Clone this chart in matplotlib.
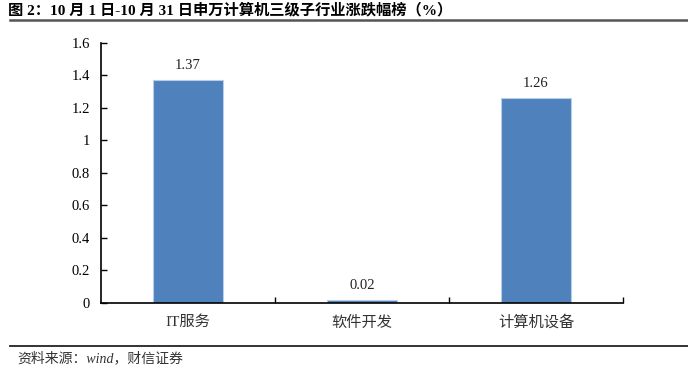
import matplotlib
matplotlib.use('Agg')
import matplotlib.pyplot as plt
from matplotlib.lines import Line2D

plt.rcParams['font.family'] = ['Liberation Serif', 'Noto Sans CJK SC']

# 数据
categories = ['IT服务', '软件开发', '计算机设备']
values = [1.37, 0.02, 1.26]
yticks = [0, 0.2, 0.4, 0.6, 0.8, 1, 1.2, 1.4, 1.6]
ytick_labels = ['0', '0.2', '0.4', '0.6', '0.8', '1', '1.2', '1.4', '1.6']

title = '图 2：10 月 1 日-10 月 31 日申万计算机三级子行业涨跌幅榜（%）'
source = '资料来源：wind，财信证券'

fig = plt.figure(figsize=(6.88, 3.77), dpi=100)
ax = fig.add_axes([0.1468, 0.1963, 0.9055 - 0.1468, 0.886 - 0.1963])

x = list(range(len(categories)))
ax.bar(x, values, width=0.4, color='#4F81BD', edgecolor='#B7CDE8', linewidth=0.8)

for xi, v in zip(x, values):
    ax.text(xi, v + 0.05, f'{v:.2f}', ha='center', va='bottom', fontsize=10.5, color='#222222')

ax.set_xlim(-0.5, len(categories) - 0.5)
ax.set_ylim(0, 1.6)
ax.set_yticks(yticks)
ax.set_yticklabels(ytick_labels, fontsize=10.5)
ax.set_xticks(x)
ax.set_xticklabels(categories, fontsize=11, color='#333333')
ax.tick_params(axis='x', which='major', length=0, pad=9)
ax.tick_params(axis='y', direction='in', length=4, width=1, pad=8)

# 类别分隔刻度
ax.set_xticks([0.5, 1.5, 2.5], minor=True)
ax.tick_params(axis='x', which='minor', direction='in', length=4, width=1)

for s in ['top', 'right']:
    ax.spines[s].set_visible(False)
ax.spines['left'].set_linewidth(1.2)
ax.spines['bottom'].set_linewidth(1.2)

fig.text(0.012, 0.992, title, fontsize=11, fontweight='bold', ha='left', va='top')
fig.add_artist(Line2D([0.015, 1.0], [1 - 20 / 377, 1 - 20 / 377], color='#555555', linewidth=1.8))
fig.add_artist(Line2D([0.015, 1.0], [1 - 346 / 377, 1 - 346 / 377], color='#222222', linewidth=1.3))
fig.text(0.025, 1 - 358 / 377, source, fontsize=10, style='italic', ha='left', va='center',
         color='#333333')

fig.savefig('out.png', dpi=100)
